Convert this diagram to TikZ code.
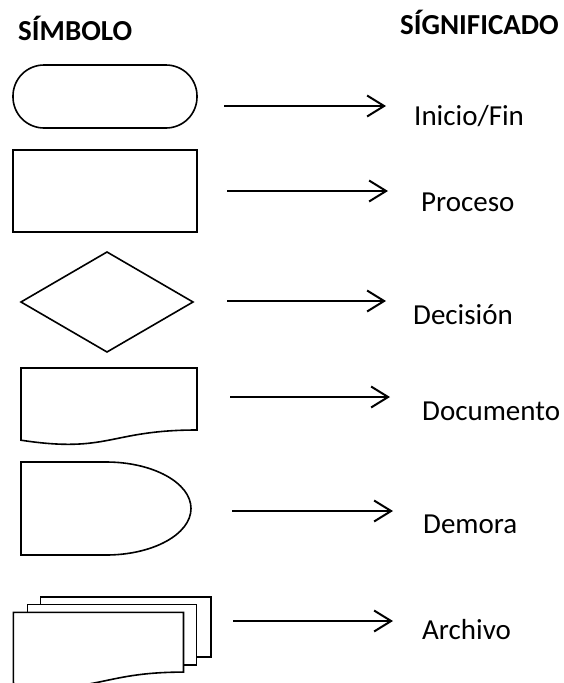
\documentclass[tikz,border=0pt]{standalone}
\usepackage{fontspec}
\setmainfont{Carlito}
\usetikzlibrary{arrows.meta}
\begin{document}
\begin{tikzpicture}[x=1pt,y=-1pt,
  shp/.style={draw=black,line width=1.6pt,fill=white,line join=miter},
  arr/.style={line width=2.2pt,-{Straight Barb[length=17pt,width=21pt,line width=2pt]}},
  lbl/.style={anchor=base west,inner sep=0pt,font=\fontsize{29}{34}\selectfont},
  hdr/.style={anchor=base west,inner sep=0pt,font=\fontsize{29}{34}\selectfont\bfseries}]
\useasboundingbox (0,0) rectangle (564,683);
\begin{scope}
\clip (0,0) rectangle (564,683);
% headers
\node[hdr] (hsym) at (18,40) {SÍMBOLO};
\node[hdr] (hsig) at (400,34) {SÍGNIFICADO};
% terminal
\draw[shp,rounded corners=31pt] (13,65) rectangle (197,128);
% process
\draw[shp] (13,150) rectangle (197,232);
% decision
\draw[shp] (21,302) -- (107,252) -- (193,302) -- (107,352) -- cycle;
% document
\draw[shp] (21,368) -- (197,368) -- (197,430)
  .. controls (109,430) and (109,453.6) .. (21,440.2) -- cycle;
% delay
\draw[shp] (21,462) -- (106,462)
  .. controls (152.9,462) and (191,482.8) .. (191,508.5)
  .. controls (191,534.2) and (152.9,555) .. (106,555) -- (21,555) -- cycle;
% multi-document
\draw[shp] (40.5,597) rectangle (211,657);
\draw[shp] (27.3,604.6) rectangle (196.4,664.7);
\draw[shp] (13.3,612.3) -- (183.5,612.3) -- (183.5,672.1)
  .. controls (98.4,672.1) and (98.4,695.1) .. (13.3,683.6) -- cycle;
% labels
\node[lbl] (l1) at (414,125) {Inicio/Fin};
\node[lbl] (l2) at (421,211) {Proceso};
\node[lbl] (l3) at (413,324) {Decisión};
\node[lbl] (l4) at (422,420) {Documento};
\node[lbl] (l5) at (423,533) {Demora};
\node[lbl] (l6) at (422,639) {Archivo};
% arrows
\coordinate (a1s) at (224,106); \coordinate (a1e) at (386,106);
\coordinate (a2s) at (227,191); \coordinate (a2e) at (388,191);
\coordinate (a3s) at (227,301); \coordinate (a3e) at (386,301);
\coordinate (a4s) at (230,397); \coordinate (a4e) at (390,397);
\coordinate (a5s) at (232,511); \coordinate (a5e) at (393,511);
\coordinate (a6s) at (233,621); \coordinate (a6e) at (393,621);
\draw[arr] (a1s) -- (a1e);
\draw[arr] (a2s) -- (a2e);
\draw[arr] (a3s) -- (a3e);
\draw[arr] (a4s) -- (a4e);
\draw[arr] (a5s) -- (a5e);
\draw[arr] (a6s) -- (a6e);
\end{scope}
\end{tikzpicture}
\end{document}
